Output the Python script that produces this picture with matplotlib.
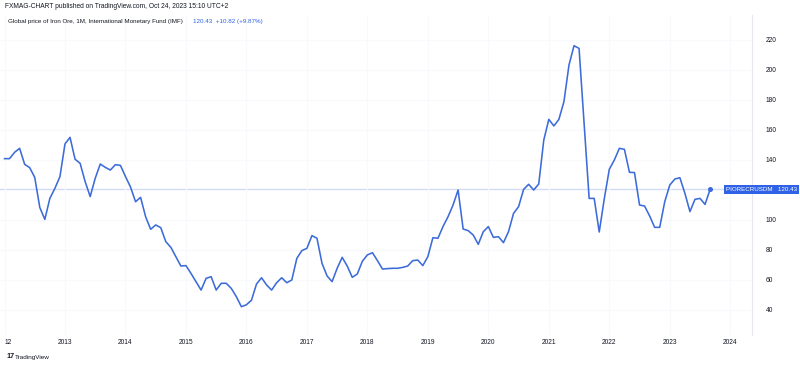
import matplotlib
matplotlib.use("Agg")
import matplotlib.pyplot as plt
import numpy as np

# Monthly global price of iron ore (USD/t), Jan 2012 .. Sep 2023
prices = [
    140.9, 140.9, 145.1, 147.8, 137.1, 134.9, 128.4, 108.4, 100.4, 114.4, 121.1, 128.9,  # 2012
    150.7, 155.1, 140.5, 137.8, 125.6, 115.6, 127.8, 137.3, 135.1, 133.3, 136.9, 136.4,  # 2013
    129.0, 122.0, 112.2, 115.1, 102.2, 93.8, 96.7, 94.9, 85.6, 81.8, 75.6, 69.3,        # 2014
    69.6, 64.4, 58.9, 53.3, 61.1, 62.2, 53.3, 57.8, 57.8, 54.4, 48.9, 42.2,             # 2015
    43.5, 46.5, 57.3, 61.5, 56.7, 53.3, 58.2, 61.5, 58.2, 60.0, 74.4, 79.6,             # 2016
    81.1, 89.6, 87.8, 71.1, 62.7, 58.9, 67.8, 75.1, 69.3, 61.8, 64.0, 72.5,             # 2017
    76.7, 78.2, 72.9, 67.3, 67.6, 67.8, 67.8, 68.4, 69.3, 72.9, 73.3, 69.6,             # 2018
    75.6, 88.2, 87.8, 95.6, 102.2, 110.0, 120.0, 94.0, 92.9, 90.0, 83.8, 92.2,          # 2019
    95.6, 88.4, 88.9, 84.9, 92.2, 104.4, 108.9, 120.4, 123.8, 120.0, 124.0, 153.3,      # 2020
    167.1, 162.7, 167.1, 178.9, 203.3, 216.2, 214.4, 164.0, 114.4, 114.4, 92.0, 114.0,  # 2021
    133.8, 140.0, 147.8, 147.1, 131.8, 131.6, 110.0, 109.3, 102.7, 95.1, 95.1, 112.2,   # 2022
    123.3, 127.3, 128.2, 117.8, 105.6, 113.8, 114.4, 110.4, 120.43,                     # 2023
]
year_labels = ["12", "2013", "2014", "2015", "2016", "2017", "2018", "2019",
               "2020", "2021", "2022", "2023", "2024"]
y_ticks = [40, 60, 80, 100, 140, 160, 180, 200, 220]
symbol = "PIORECRUSDM"
last_value = prices[-1]
change = 10.82
change_pct = 9.87

LINE = "#3d6bd9"
BLUE = "#2f62e6"
TXT = "#131722"
GRID = "#f8f9fc"
FONT = "Liberation Sans"

fig = plt.figure(figsize=(8.0, 3.66), dpi=100)
ax = fig.add_axes([0.0, 1 - 335 / 366, 752 / 800, (335 - 15) / 366])

x = np.arange(len(prices))
ax.plot(x, prices, color=LINE, lw=1.15, solid_joinstyle="round", zorder=3)
ax.plot(x[-1], prices[-1], "o", color=LINE, ms=2.6, zorder=4)
ax.axhline(last_value, color="#d3dcf7", lw=1.0, zorder=1)

# month index -> pixel: x = 4.5 + 5.04*m over 0..752
m0 = -4.5 / 5.04
m1 = (752 - 4.5) / 5.04
ax.set_xlim(m0, m1)
ax.set_ylim(220 - (335 - 40) / 1.5, 220 + 25 / 1.5)

xt = [12 * i for i in range(len(year_labels))]
ax.set_xticks(xt)
ax.set_xticklabels(year_labels, fontsize=4.8, color=TXT, family=FONT)
ax.get_xticklabels()[0].set_ha("left")
ax.tick_params(axis="x", length=0, pad=3)

ax.yaxis.tick_right()
ax.set_yticks(y_ticks)
ax.set_yticklabels([str(v) for v in y_ticks], fontsize=4.8, color=TXT, family=FONT)
ax.tick_params(axis="y", length=0, pad=10)

ax.grid(True, color=GRID, lw=0.8, zorder=0)
for s in ["top", "left", "bottom"]:
    ax.spines[s].set_visible(False)
ax.spines["right"].set_color("#e6e8ee")
ax.spines["right"].set_linewidth(0.8)

# price label on the right axis
ax.annotate(f"{symbol}   {last_value:.2f}", xy=(1.0, last_value),
            xycoords=("axes fraction", "data"), xytext=(-18.5, 0),
            textcoords="offset points", ha="left", va="center",
            fontsize=4.5, color="white", family=FONT, annotation_clip=False,
            bbox=dict(boxstyle="square,pad=0.3", fc=BLUE, ec="none"), zorder=6)

fig.text(5 / 800, 1 - 6 / 366,
         "FXMAG-CHART published on TradingView.com, Oct 24, 2023 15:10 UTC+2",
         fontsize=4.8, color=TXT, family=FONT, va="center", ha="left")
fig.text(8 / 800, 1 - 22 / 366,
         "Global price of Iron Ore, 1M, International Monetary Fund (IMF)",
         fontsize=4.5, color=TXT, family=FONT, va="center", ha="left")
fig.text(193 / 800, 1 - 22 / 366,
         f"{last_value:.2f}  +{change:.2f} (+{change_pct:.2f}%)",
         fontsize=4.5, color=BLUE, family=FONT, va="center", ha="left")
fig.text(6 / 800, 1 - 357 / 366, "17", fontsize=5.2, color=TXT, family=FONT,
         va="center", ha="left", weight="bold")
fig.text(15 / 800, 1 - 357 / 366, "TradingView", fontsize=4.6, color=TXT, family=FONT,
         va="center", ha="left")

fig.savefig("out.png", dpi=100, facecolor="white")
